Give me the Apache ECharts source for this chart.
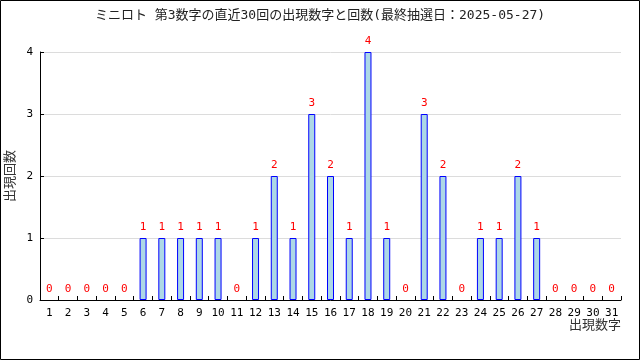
<!DOCTYPE html>
<html><head><meta charset="utf-8">
<script src="https://cdn.jsdelivr.net/npm/echarts@6/dist/echarts.min.js"></script>
<style>html,body{margin:0;padding:0;background:#fff}#c{width:640px;height:360px}</style>
</head><body><div id="c"></div>
<script>
const titleText = 'ミニロト 第3数字の直近30回の出現数字と回数(最終抽選日：2025-05-27)';
const categories = ['1','2','3','4','5','6','7','8','9','10','11','12','13','14','15','16','17','18','19','20','21','22','23','24','25','26','27','28','29','30','31'];
const counts = [0,0,0,0,0,1,1,1,1,1,0,1,2,1,3,2,1,4,1,0,3,2,0,1,1,2,1,0,0,0,0];
const yTicks = [0,1,2,3,4];
const FONT = '"DejaVu Sans Mono", "Noto Sans CJK JP", monospace';
const chart = echarts.init(document.getElementById('c'));
chart.setOption({
  animation: false,
  backgroundColor: '#fff',
  textStyle: { fontFamily: FONT },
  title: { text: titleText, left: 'center', top: 4,
    textStyle: { fontSize: 13, fontWeight: 'normal', color: '#222', fontFamily: FONT } },
  graphic: [{ type: 'rect', shape: { x: 0.5, y: 0.5, width: 639, height: 359 },
    style: { fill: 'none', stroke: '#000', lineWidth: 1 }, silent: true }],
  grid: { left: 40, right: 19, top: 52, bottom: 60, containLabel: false, outerBoundsMode: 'none' },
  xAxis: {
    type: 'category', data: categories, boundaryGap: true,
    name: '出現数字', nameLocation: 'end', nameGap: 0,
    nameTextStyle: { fontSize: 13, color: '#333', align: 'right', verticalAlign: 'top', padding: [19, 0, 0, 0], fontFamily: FONT },
    axisLine: { lineStyle: { color: '#000', width: 1 } },
    axisTick: { show: true, inside: true, length: 4, lineStyle: { color: '#000' } },
    axisLabel: { fontSize: 11, color: '#000', margin: 8, interval: 0, fontFamily: FONT },
    splitLine: { show: false }
  },
  yAxis: {
    type: 'value', min: yTicks[0], max: yTicks[yTicks.length-1], interval: 1,
    name: '出現回数', nameLocation: 'middle', nameGap: 23, nameRotate: 90, nameMoveOverlap: false,
    nameTextStyle: { fontSize: 13, color: '#333', fontFamily: FONT },
    axisLine: { show: true, lineStyle: { color: '#000', width: 1 } },
    axisTick: { show: true, inside: true, length: 4, lineStyle: { color: '#000' } },
    axisLabel: { fontSize: 11, color: '#000', margin: 7, fontFamily: FONT },
    splitLine: { show: true, lineStyle: { color: '#dcdcdc', width: 1 } }
  },
  series: [{
    type: 'bar', barWidth: 7,
    data: counts.map(v => v === 0 ? { value: v, itemStyle: { borderWidth: 0 } } : v),
    itemStyle: { color: '#add8e6', borderColor: '#0000ff', borderWidth: 1 },
    label: { show: true, position: 'top', distance: 5, color: '#ff0000', fontSize: 11, fontFamily: FONT }
  }]
});
</script></body></html>
